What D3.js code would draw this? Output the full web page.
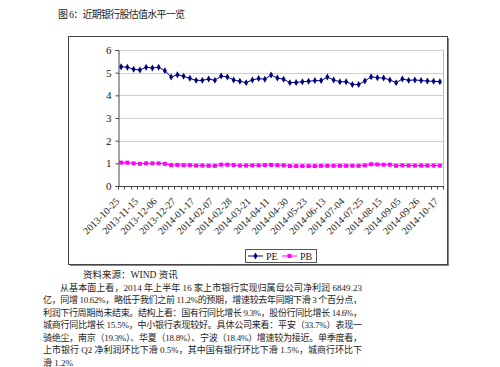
<!DOCTYPE html>
<html><head><meta charset="utf-8">
<script src="https://cdn.jsdelivr.net/npm/d3@7"></script>
<style>
html,body{margin:0;padding:0;background:#fff;}
svg{display:block;}
</style></head>
<body>
<svg id="c" width="500" height="367"></svg>
<script>
const categories = ["2013-10-25","2013-11-01","2013-11-08","2013-11-15","2013-11-22","2013-11-29","2013-12-06","2013-12-13","2013-12-20","2013-12-27",
"2014-01-03","2014-01-10","2014-01-17","2014-01-24","2014-01-30","2014-02-07","2014-02-14","2014-02-21","2014-02-28","2014-03-07",
"2014-03-14","2014-03-21","2014-03-28","2014-04-04","2014-04-11","2014-04-18","2014-04-25","2014-04-30","2014-05-09","2014-05-16",
"2014-05-23","2014-05-30","2014-06-06","2014-06-13","2014-06-20","2014-06-27","2014-07-04","2014-07-11","2014-07-18","2014-07-25",
"2014-08-01","2014-08-08","2014-08-15","2014-08-22","2014-08-29","2014-09-05","2014-09-12","2014-09-19","2014-09-26","2014-09-30",
"2014-10-10","2014-10-17"];
const peValues = [5.26,5.24,5.15,5.12,5.24,5.21,5.24,5.09,4.81,4.91,
4.84,4.75,4.66,4.66,4.72,4.66,4.85,4.81,4.68,4.62,
4.56,4.68,4.74,4.71,4.90,4.76,4.71,4.56,4.57,4.60,
4.62,4.65,4.65,4.81,4.68,4.60,4.60,4.48,4.48,4.63,
4.82,4.78,4.76,4.68,4.56,4.72,4.66,4.68,4.65,4.63,
4.62,4.60];
const pbValues = [1.03,1.03,1.00,0.98,1.00,1.00,1.00,0.98,0.92,0.93,
0.92,0.92,0.90,0.90,0.89,0.89,0.94,0.94,0.92,0.90,
0.90,0.91,0.91,0.92,0.93,0.92,0.91,0.88,0.88,0.88,
0.88,0.88,0.89,0.89,0.89,0.89,0.89,0.89,0.89,0.91,
0.96,0.95,0.94,0.94,0.89,0.91,0.90,0.90,0.90,0.90,
0.90,0.90];
const yTicks = [0,1,2,3,4,5,6];
const seriesNames = ["PE","PB"];
const titleText = "图 6：近期银行股估值水平一览";
const sourceText = "资料来源：WIND 资讯";
const paragraph = [
 "从基本面上看，2014 年上半年 16 家上市银行实现归属母公司净利润 6849.23",
 "亿，同增 10.62%，略低于我们之前 11.2%的预期，增速较去年同期下滑 3 个百分点，",
 "利润下行周期尚未结束。结构上看：国有行同比增长 9.3%，股份行同比增长 14.6%，",
 "城商行同比增长 15.5%，中小银行表现较好。具体公司来看：平安（33.7%）表现一",
 "骑绝尘，南京（19.3%）、华夏（18.8%）、宁波（18.4%）增速较为接近。单季度看，",
 "上市银行 Q2 净利润环比下滑 0.5%，其中国有银行环比下滑 1.5%，城商行环比下",
 "滑 1.2%"
];

const FONT = "'Liberation Serif','Noto Sans CJK SC',serif";
const svg = d3.select("#c");

// title
svg.append("text").attr("x",58).attr("y",18).attr("font-family",FONT).attr("font-size",10)
  .attr("fill","#222").attr("textLength",127).attr("lengthAdjust","spacing").text(titleText);

// chart outer frame with shadow
svg.append("rect").attr("x",70).attr("y",38).attr("width",379).attr("height",228).attr("fill","#888");
svg.append("rect").attr("x",68.5).attr("y",36.5).attr("width",379).attr("height",228)
  .attr("fill","#fff").attr("stroke","#444").attr("stroke-width",1);

const L=118, R=443, T=50, B=186;
const x = d3.scaleBand().domain(categories).range([L,R]).padding(0);
const y = d3.scaleLinear().domain([0,6]).range([B,T]);

// gridlines
svg.append("g").selectAll("line").data(yTicks.filter(d=>d>0)).join("line")
  .attr("x1",L).attr("x2",R).attr("y1",d=>Math.round(y(d))+0.5).attr("y2",d=>Math.round(y(d))+0.5)
  .attr("stroke","#cfcfcf").attr("stroke-width",1);
// plot right border
svg.append("line").attr("x1",R+0.5).attr("x2",R+0.5).attr("y1",T).attr("y2",B).attr("stroke","#bdbdbd");

// y axis
const yAxis = d3.axisLeft(y).tickValues(yTicks).tickSize(3).tickPadding(4).tickFormat(d3.format("d"));
const gy = svg.append("g").attr("transform",`translate(${L+0.5},0)`).call(yAxis);
gy.select(".domain").attr("stroke","#444");
gy.selectAll(".tick line").attr("stroke","#444");
gy.selectAll("text").attr("font-family",FONT).attr("font-size",11).attr("fill","#222");

// x axis: ticks between categories
const xAxisG = svg.append("g");
xAxisG.append("line").attr("x1",L).attr("x2",R+1).attr("y1",B+0.5).attr("y2",B+0.5).attr("stroke","#444");
const edges = categories.map(c=>x(c)).concat([R]);
xAxisG.selectAll("line.tk").data(edges).join("line").attr("class","tk")
  .attr("x1",d=>Math.round(d)+0.5).attr("x2",d=>Math.round(d)+0.5).attr("y1",B).attr("y2",B+3.5)
  .attr("stroke","#444");
const labelCats = categories.filter((c,i)=>i%3===0);
xAxisG.selectAll("text").data(labelCats).join("text")
  .attr("transform",d=>`translate(${x(d)+x.bandwidth()/2-1},${B+16}) rotate(-45)`)
  .attr("text-anchor","end").attr("font-family",FONT).attr("font-size",10).attr("fill","#222")
  .text(d=>d);

// lines
const cx = d=>x(d)+x.bandwidth()/2;
const line = d3.line().x((d,i)=>cx(categories[i])).y(d=>y(d));
svg.append("path").datum(peValues).attr("d",line).attr("fill","none").attr("stroke","#000080").attr("stroke-width",1);
svg.append("path").datum(pbValues).attr("d",line).attr("fill","none").attr("stroke","#ff00ff").attr("stroke-width",1);
const diamond = d3.symbol().type(d3.symbolDiamond).size(14);
svg.append("g").selectAll("path").data(peValues).join("path")
  .attr("d",diamond).attr("transform",(d,i)=>`translate(${cx(categories[i])},${y(d)})`).attr("fill","#000080");
svg.append("g").selectAll("rect").data(pbValues).join("rect")
  .attr("x",(d,i)=>cx(categories[i])-2).attr("y",d=>y(d)-2).attr("width",4).attr("height",4).attr("fill","#ff00ff");

// legend
const lg = svg.append("g");
lg.append("rect").attr("x",245.5).attr("y",249.5).attr("width",71).attr("height",13).attr("fill","#fff").attr("stroke","#555");
lg.append("line").attr("x1",248).attr("x2",263).attr("y1",256).attr("y2",256).attr("stroke","#000080");
lg.append("path").attr("d",diamond).attr("transform","translate(255.5,256)").attr("fill","#000080");
lg.append("text").attr("x",266).attr("y",260).attr("font-family",FONT).attr("font-size",10).attr("fill","#222").text(seriesNames[0]);
lg.append("line").attr("x1",282).attr("x2",297).attr("y1",256).attr("y2",256).attr("stroke","#ff00ff");
lg.append("rect").attr("x",287.5).attr("y",254).attr("width",4).attr("height",4).attr("fill","#ff00ff");
lg.append("text").attr("x",300).attr("y",260).attr("font-family",FONT).attr("font-size",10).attr("fill","#222").text(seriesNames[1]);

// source
svg.append("text").attr("x",83).attr("y",278).attr("font-family",FONT).attr("font-size",9.5).attr("fill","#222").text(sourceText);

// paragraph
paragraph.forEach((t,i)=>{
  const x0 = i===0?60:43;
  const tx = svg.append("text").attr("x",x0).attr("y",290.5+i*12.55).attr("font-family",FONT)
    .attr("font-size",9).attr("fill","#222").text(t);
  if(i<paragraph.length-1){ tx.attr("textLength",362-x0).attr("lengthAdjust","spacing"); }
});
</script>
</body></html>
